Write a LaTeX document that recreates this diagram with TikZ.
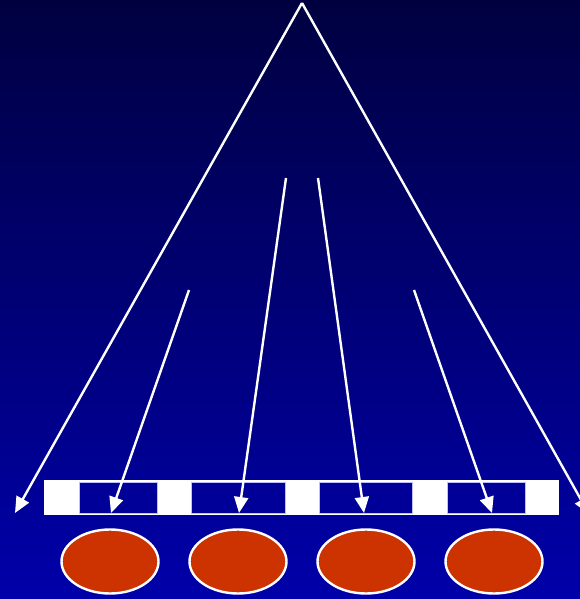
\documentclass[tikz,border=0pt]{standalone}
\usetikzlibrary{arrows.meta,shapes.geometric}
\definecolor{bgtop}{RGB}{0,0,64}
\definecolor{bgbot}{RGB}{0,0,170}
\definecolor{cellblue}{RGB}{0,0,152}
\definecolor{cellline}{RGB}{190,190,255}
\definecolor{orangered}{RGB}{204,51,0}
\begin{document}
\begin{tikzpicture}[x=1pt,y=-1pt,
  conn/.style={draw=white, line width=2.4pt, -{Triangle[length=16pt,width=14pt]}},
  bar/.style={draw=none, fill=white, minimum width=515pt, minimum height=35pt, inner sep=0pt, outer sep=0pt},
  cell/.style={draw=cellline, line width=0.8pt, fill=cellblue, minimum height=31pt, inner sep=0pt, outer sep=0pt},
  blob/.style={ellipse, draw=white, line width=2.4pt, fill=orangered, minimum width=97pt, minimum height=64pt, inner sep=0pt}]
\useasboundingbox (0,0) rectangle (580,599);
\clip (0,0) rectangle (580,599);
\shade[top color=bgtop, bottom color=bgbot] (0,0) rectangle (580,599);
% bar
\node[bar] (bar) at (301.5,497.5) {};
\node[cell, minimum width=78pt] (c1) at (118,497.5) {};
\node[cell, minimum width=94pt] (c2) at (238,497.5) {};
\node[cell, minimum width=93pt] (c3) at (365.5,497.5) {};
\node[cell, minimum width=78pt] (c4) at (486,497.5) {};
% ellipses
\node[blob] (e1) at (110,561.5) {};
\node[blob] (e2) at (238,561.5) {};
\node[blob] (e3) at (366,561.5) {};
\node[blob] (e4) at (494,561.5) {};
% coordinates
\coordinate (apex) at (302,3);
\coordinate (lend) at (15,513);
\coordinate (rend) at (589,514);
\coordinate (s1) at (189,290);
\coordinate (s2) at (286,178);
\coordinate (s3) at (318,178);
\coordinate (s4) at (414,290);
\coordinate (t1) at (111,513);
\coordinate (t2) at (239,513);
\coordinate (t3) at (364,513);
\coordinate (t4) at (492,513);
% connectors
\draw[conn] (apex) -- (lend);
\draw[conn] (apex) -- (rend);
\draw[conn] (s1) -- (t1);
\draw[conn] (s2) -- (t2);
\draw[conn] (s3) -- (t3);
\draw[conn] (s4) -- (t4);
\end{tikzpicture}
\end{document}
